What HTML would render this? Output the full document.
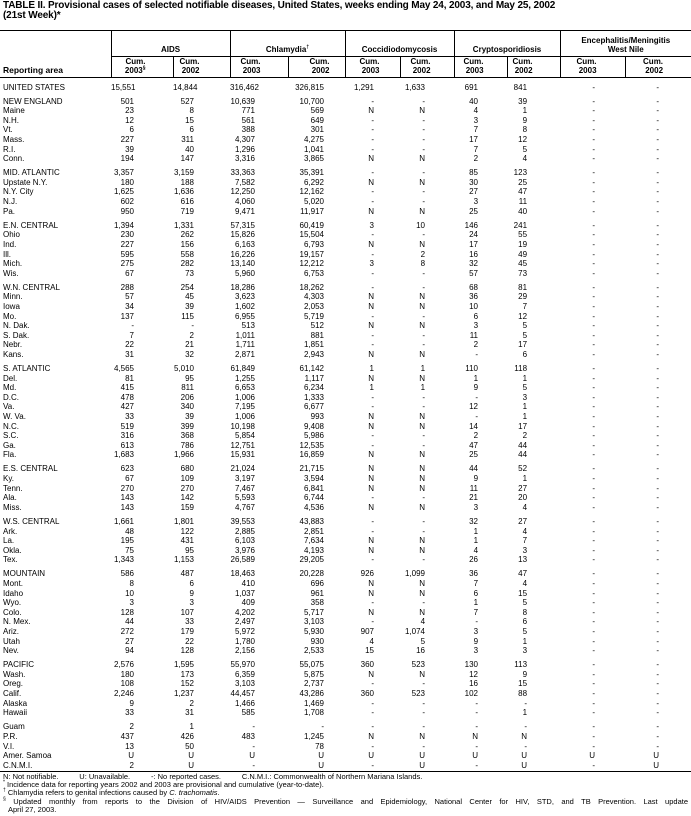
<!DOCTYPE html>
<html><head><meta charset="utf-8">
<style>
*{margin:0;padding:0;box-sizing:border-box}
body{width:691px;height:816px;background:#fff;font-family:"Liberation Sans",Arial,sans-serif;color:#000;position:relative;overflow:hidden}
sup{line-height:0}
.title{position:absolute;left:3px;top:1px;font-weight:bold;font-size:10px;line-height:10px;letter-spacing:-0.15px}
table{position:absolute;left:0;top:30px;width:691px;border-collapse:collapse;table-layout:fixed;font-size:8px}
td,th{white-space:nowrap;padding:0;overflow:visible}
th{font-weight:bold;font-size:8px;line-height:9px}
thead tr.g th{height:26px;border-top:1px solid #000;vertical-align:bottom;padding-bottom:2px;text-align:center}
thead tr.c th{height:21px;border-top:1px solid #000;border-bottom:1px solid #000;text-align:right;vertical-align:bottom;padding-bottom:2px}
thead th.bl{border-left:1px solid #000}
thead tr.c th.ra{text-align:left;padding-left:3px;font-size:8.5px}
thead tr.c th:nth-child(2){padding-right:27px}
thead tr.c th:nth-child(3){padding-right:30px}
thead tr.c th:nth-child(4){padding-right:27px}
thead tr.c th:nth-child(5){padding-right:15px}
thead tr.c th:nth-child(6){padding-right:20px}
thead tr.c th:nth-child(7){padding-right:23px}
thead tr.c th:nth-child(8){padding-right:23px}
thead tr.c th:nth-child(9){padding-right:27px}
thead tr.c th:nth-child(10){padding-right:28px}
thead tr.c th:nth-child(11){padding-right:28px}
tbody td{height:9.6px;line-height:9.6px;text-align:right}
tbody td:first-child{text-align:left;padding-left:3px}
tbody tr.sp td{height:4.5px;line-height:4.5px}
tbody tr.sp0 td{height:5px;line-height:5px}
tbody td:nth-child(2){padding-right:39px}
tbody td:nth-child(3){padding-right:36px}
tbody td:nth-child(4){padding-right:33px}
tbody td:nth-child(5){padding-right:21px}
tbody td:nth-child(6){padding-right:26px}
tbody td:nth-child(7){padding-right:29px}
tbody td:nth-child(8){padding-right:29px}
tbody td:nth-child(9){padding-right:33px}
tbody td:nth-child(10){padding-right:30px}
tbody td:nth-child(11){padding-right:32px}
.foot{position:absolute;left:0;top:771px;width:691px;border-top:1.5px solid #000;font-size:7.5px;line-height:8.2px;padding-top:1px}
.foot div{padding-left:3px;height:8.2px}
.foot div.u{height:auto}
</style></head><body>
<div class="title">TABLE II. Provisional cases of selected notifiable diseases, United States, weeks ending May 24, 2003, and May 25, 2002<br>(21st Week)*</div>
<table>
<colgroup><col style="width:111px"><col style="width:62px"><col style="width:57px"><col style="width:58px"><col style="width:57px"><col style="width:55px"><col style="width:54px"><col style="width:53px"><col style="width:53px"><col style="width:65px"><col style="width:66px"></colgroup>
<thead>
<tr class="g"><th style="border-top:1px solid #000"></th><th colspan="2" class="bl">AIDS</th><th colspan="2" class="bl">Chlamydia<sup style="font-size:5px">†</sup></th><th colspan="2" class="bl">Coccidiodomycosis</th><th colspan="2" class="bl">Cryptosporidiosis</th><th colspan="2" class="bl">Encephalitis/Meningitis<br>West Nile</th></tr>
<tr class="c"><th class="ra" style="border-top:none">Reporting area</th><th class="bl">Cum.<br>2003<sup style="font-size:5px">§</sup></th><th class="bl">Cum.<br>2002</th><th class="bl">Cum.<br>2003</th><th class="bl">Cum.<br>2002</th><th class="bl">Cum.<br>2003</th><th class="bl">Cum.<br>2002</th><th class="bl">Cum.<br>2003</th><th class="bl">Cum.<br>2002</th><th class="bl">Cum.<br>2003</th><th class="bl">Cum.<br>2002</th></tr>
</thead>
<tbody>
<tr class="sp0"><td></td><td></td><td></td><td></td><td></td><td></td><td></td><td></td><td></td><td></td><td></td></tr>
<tr><td>UNITED STATES</td><td>15,551</td><td>14,844</td><td>316,462</td><td>326,815</td><td>1,291</td><td>1,633</td><td>691</td><td>841</td><td>-</td><td>-</td></tr>
<tr class="sp"><td></td><td></td><td></td><td></td><td></td><td></td><td></td><td></td><td></td><td></td><td></td></tr>
<tr><td>NEW ENGLAND</td><td>501</td><td>527</td><td>10,639</td><td>10,700</td><td>-</td><td>-</td><td>40</td><td>39</td><td>-</td><td>-</td></tr>
<tr><td>Maine</td><td>23</td><td>8</td><td>771</td><td>569</td><td>N</td><td>N</td><td>4</td><td>1</td><td>-</td><td>-</td></tr>
<tr><td>N.H.</td><td>12</td><td>15</td><td>561</td><td>649</td><td>-</td><td>-</td><td>3</td><td>9</td><td>-</td><td>-</td></tr>
<tr><td>Vt.</td><td>6</td><td>6</td><td>388</td><td>301</td><td>-</td><td>-</td><td>7</td><td>8</td><td>-</td><td>-</td></tr>
<tr><td>Mass.</td><td>227</td><td>311</td><td>4,307</td><td>4,275</td><td>-</td><td>-</td><td>17</td><td>12</td><td>-</td><td>-</td></tr>
<tr><td>R.I.</td><td>39</td><td>40</td><td>1,296</td><td>1,041</td><td>-</td><td>-</td><td>7</td><td>5</td><td>-</td><td>-</td></tr>
<tr><td>Conn.</td><td>194</td><td>147</td><td>3,316</td><td>3,865</td><td>N</td><td>N</td><td>2</td><td>4</td><td>-</td><td>-</td></tr>
<tr class="sp"><td></td><td></td><td></td><td></td><td></td><td></td><td></td><td></td><td></td><td></td><td></td></tr>
<tr><td>MID. ATLANTIC</td><td>3,357</td><td>3,159</td><td>33,363</td><td>35,391</td><td>-</td><td>-</td><td>85</td><td>123</td><td>-</td><td>-</td></tr>
<tr><td>Upstate N.Y.</td><td>180</td><td>188</td><td>7,582</td><td>6,292</td><td>N</td><td>N</td><td>30</td><td>25</td><td>-</td><td>-</td></tr>
<tr><td>N.Y. City</td><td>1,625</td><td>1,636</td><td>12,250</td><td>12,162</td><td>-</td><td>-</td><td>27</td><td>47</td><td>-</td><td>-</td></tr>
<tr><td>N.J.</td><td>602</td><td>616</td><td>4,060</td><td>5,020</td><td>-</td><td>-</td><td>3</td><td>11</td><td>-</td><td>-</td></tr>
<tr><td>Pa.</td><td>950</td><td>719</td><td>9,471</td><td>11,917</td><td>N</td><td>N</td><td>25</td><td>40</td><td>-</td><td>-</td></tr>
<tr class="sp"><td></td><td></td><td></td><td></td><td></td><td></td><td></td><td></td><td></td><td></td><td></td></tr>
<tr><td>E.N. CENTRAL</td><td>1,394</td><td>1,331</td><td>57,315</td><td>60,419</td><td>3</td><td>10</td><td>146</td><td>241</td><td>-</td><td>-</td></tr>
<tr><td>Ohio</td><td>230</td><td>262</td><td>15,826</td><td>15,504</td><td>-</td><td>-</td><td>24</td><td>55</td><td>-</td><td>-</td></tr>
<tr><td>Ind.</td><td>227</td><td>156</td><td>6,163</td><td>6,793</td><td>N</td><td>N</td><td>17</td><td>19</td><td>-</td><td>-</td></tr>
<tr><td>Ill.</td><td>595</td><td>558</td><td>16,226</td><td>19,157</td><td>-</td><td>2</td><td>16</td><td>49</td><td>-</td><td>-</td></tr>
<tr><td>Mich.</td><td>275</td><td>282</td><td>13,140</td><td>12,212</td><td>3</td><td>8</td><td>32</td><td>45</td><td>-</td><td>-</td></tr>
<tr><td>Wis.</td><td>67</td><td>73</td><td>5,960</td><td>6,753</td><td>-</td><td>-</td><td>57</td><td>73</td><td>-</td><td>-</td></tr>
<tr class="sp"><td></td><td></td><td></td><td></td><td></td><td></td><td></td><td></td><td></td><td></td><td></td></tr>
<tr><td>W.N. CENTRAL</td><td>288</td><td>254</td><td>18,286</td><td>18,262</td><td>-</td><td>-</td><td>68</td><td>81</td><td>-</td><td>-</td></tr>
<tr><td>Minn.</td><td>57</td><td>45</td><td>3,623</td><td>4,303</td><td>N</td><td>N</td><td>36</td><td>29</td><td>-</td><td>-</td></tr>
<tr><td>Iowa</td><td>34</td><td>39</td><td>1,602</td><td>2,053</td><td>N</td><td>N</td><td>10</td><td>7</td><td>-</td><td>-</td></tr>
<tr><td>Mo.</td><td>137</td><td>115</td><td>6,955</td><td>5,719</td><td>-</td><td>-</td><td>6</td><td>12</td><td>-</td><td>-</td></tr>
<tr><td>N. Dak.</td><td>-</td><td>-</td><td>513</td><td>512</td><td>N</td><td>N</td><td>3</td><td>5</td><td>-</td><td>-</td></tr>
<tr><td>S. Dak.</td><td>7</td><td>2</td><td>1,011</td><td>881</td><td>-</td><td>-</td><td>11</td><td>5</td><td>-</td><td>-</td></tr>
<tr><td>Nebr.</td><td>22</td><td>21</td><td>1,711</td><td>1,851</td><td>-</td><td>-</td><td>2</td><td>17</td><td>-</td><td>-</td></tr>
<tr><td>Kans.</td><td>31</td><td>32</td><td>2,871</td><td>2,943</td><td>N</td><td>N</td><td>-</td><td>6</td><td>-</td><td>-</td></tr>
<tr class="sp"><td></td><td></td><td></td><td></td><td></td><td></td><td></td><td></td><td></td><td></td><td></td></tr>
<tr><td>S. ATLANTIC</td><td>4,565</td><td>5,010</td><td>61,849</td><td>61,142</td><td>1</td><td>1</td><td>110</td><td>118</td><td>-</td><td>-</td></tr>
<tr><td>Del.</td><td>81</td><td>95</td><td>1,255</td><td>1,117</td><td>N</td><td>N</td><td>1</td><td>1</td><td>-</td><td>-</td></tr>
<tr><td>Md.</td><td>415</td><td>811</td><td>6,653</td><td>6,234</td><td>1</td><td>1</td><td>9</td><td>5</td><td>-</td><td>-</td></tr>
<tr><td>D.C.</td><td>478</td><td>206</td><td>1,006</td><td>1,333</td><td>-</td><td>-</td><td>-</td><td>3</td><td>-</td><td>-</td></tr>
<tr><td>Va.</td><td>427</td><td>340</td><td>7,195</td><td>6,677</td><td>-</td><td>-</td><td>12</td><td>1</td><td>-</td><td>-</td></tr>
<tr><td>W. Va.</td><td>33</td><td>39</td><td>1,006</td><td>993</td><td>N</td><td>N</td><td>-</td><td>1</td><td>-</td><td>-</td></tr>
<tr><td>N.C.</td><td>519</td><td>399</td><td>10,198</td><td>9,408</td><td>N</td><td>N</td><td>14</td><td>17</td><td>-</td><td>-</td></tr>
<tr><td>S.C.</td><td>316</td><td>368</td><td>5,854</td><td>5,986</td><td>-</td><td>-</td><td>2</td><td>2</td><td>-</td><td>-</td></tr>
<tr><td>Ga.</td><td>613</td><td>786</td><td>12,751</td><td>12,535</td><td>-</td><td>-</td><td>47</td><td>44</td><td>-</td><td>-</td></tr>
<tr><td>Fla.</td><td>1,683</td><td>1,966</td><td>15,931</td><td>16,859</td><td>N</td><td>N</td><td>25</td><td>44</td><td>-</td><td>-</td></tr>
<tr class="sp"><td></td><td></td><td></td><td></td><td></td><td></td><td></td><td></td><td></td><td></td><td></td></tr>
<tr><td>E.S. CENTRAL</td><td>623</td><td>680</td><td>21,024</td><td>21,715</td><td>N</td><td>N</td><td>44</td><td>52</td><td>-</td><td>-</td></tr>
<tr><td>Ky.</td><td>67</td><td>109</td><td>3,197</td><td>3,594</td><td>N</td><td>N</td><td>9</td><td>1</td><td>-</td><td>-</td></tr>
<tr><td>Tenn.</td><td>270</td><td>270</td><td>7,467</td><td>6,841</td><td>N</td><td>N</td><td>11</td><td>27</td><td>-</td><td>-</td></tr>
<tr><td>Ala.</td><td>143</td><td>142</td><td>5,593</td><td>6,744</td><td>-</td><td>-</td><td>21</td><td>20</td><td>-</td><td>-</td></tr>
<tr><td>Miss.</td><td>143</td><td>159</td><td>4,767</td><td>4,536</td><td>N</td><td>N</td><td>3</td><td>4</td><td>-</td><td>-</td></tr>
<tr class="sp"><td></td><td></td><td></td><td></td><td></td><td></td><td></td><td></td><td></td><td></td><td></td></tr>
<tr><td>W.S. CENTRAL</td><td>1,661</td><td>1,801</td><td>39,553</td><td>43,883</td><td>-</td><td>-</td><td>32</td><td>27</td><td>-</td><td>-</td></tr>
<tr><td>Ark.</td><td>48</td><td>122</td><td>2,885</td><td>2,851</td><td>-</td><td>-</td><td>1</td><td>4</td><td>-</td><td>-</td></tr>
<tr><td>La.</td><td>195</td><td>431</td><td>6,103</td><td>7,634</td><td>N</td><td>N</td><td>1</td><td>7</td><td>-</td><td>-</td></tr>
<tr><td>Okla.</td><td>75</td><td>95</td><td>3,976</td><td>4,193</td><td>N</td><td>N</td><td>4</td><td>3</td><td>-</td><td>-</td></tr>
<tr><td>Tex.</td><td>1,343</td><td>1,153</td><td>26,589</td><td>29,205</td><td>-</td><td>-</td><td>26</td><td>13</td><td>-</td><td>-</td></tr>
<tr class="sp"><td></td><td></td><td></td><td></td><td></td><td></td><td></td><td></td><td></td><td></td><td></td></tr>
<tr><td>MOUNTAIN</td><td>586</td><td>487</td><td>18,463</td><td>20,228</td><td>926</td><td>1,099</td><td>36</td><td>47</td><td>-</td><td>-</td></tr>
<tr><td>Mont.</td><td>8</td><td>6</td><td>410</td><td>696</td><td>N</td><td>N</td><td>7</td><td>4</td><td>-</td><td>-</td></tr>
<tr><td>Idaho</td><td>10</td><td>9</td><td>1,037</td><td>961</td><td>N</td><td>N</td><td>6</td><td>15</td><td>-</td><td>-</td></tr>
<tr><td>Wyo.</td><td>3</td><td>3</td><td>409</td><td>358</td><td>-</td><td>-</td><td>1</td><td>5</td><td>-</td><td>-</td></tr>
<tr><td>Colo.</td><td>128</td><td>107</td><td>4,202</td><td>5,717</td><td>N</td><td>N</td><td>7</td><td>8</td><td>-</td><td>-</td></tr>
<tr><td>N. Mex.</td><td>44</td><td>33</td><td>2,497</td><td>3,103</td><td>-</td><td>4</td><td>-</td><td>6</td><td>-</td><td>-</td></tr>
<tr><td>Ariz.</td><td>272</td><td>179</td><td>5,972</td><td>5,930</td><td>907</td><td>1,074</td><td>3</td><td>5</td><td>-</td><td>-</td></tr>
<tr><td>Utah</td><td>27</td><td>22</td><td>1,780</td><td>930</td><td>4</td><td>5</td><td>9</td><td>1</td><td>-</td><td>-</td></tr>
<tr><td>Nev.</td><td>94</td><td>128</td><td>2,156</td><td>2,533</td><td>15</td><td>16</td><td>3</td><td>3</td><td>-</td><td>-</td></tr>
<tr class="sp"><td></td><td></td><td></td><td></td><td></td><td></td><td></td><td></td><td></td><td></td><td></td></tr>
<tr><td>PACIFIC</td><td>2,576</td><td>1,595</td><td>55,970</td><td>55,075</td><td>360</td><td>523</td><td>130</td><td>113</td><td>-</td><td>-</td></tr>
<tr><td>Wash.</td><td>180</td><td>173</td><td>6,359</td><td>5,875</td><td>N</td><td>N</td><td>12</td><td>9</td><td>-</td><td>-</td></tr>
<tr><td>Oreg.</td><td>108</td><td>152</td><td>3,103</td><td>2,737</td><td>-</td><td>-</td><td>16</td><td>15</td><td>-</td><td>-</td></tr>
<tr><td>Calif.</td><td>2,246</td><td>1,237</td><td>44,457</td><td>43,286</td><td>360</td><td>523</td><td>102</td><td>88</td><td>-</td><td>-</td></tr>
<tr><td>Alaska</td><td>9</td><td>2</td><td>1,466</td><td>1,469</td><td>-</td><td>-</td><td>-</td><td>-</td><td>-</td><td>-</td></tr>
<tr><td>Hawaii</td><td>33</td><td>31</td><td>585</td><td>1,708</td><td>-</td><td>-</td><td>-</td><td>1</td><td>-</td><td>-</td></tr>
<tr class="sp"><td></td><td></td><td></td><td></td><td></td><td></td><td></td><td></td><td></td><td></td><td></td></tr>
<tr><td>Guam</td><td>2</td><td>1</td><td>-</td><td>-</td><td>-</td><td>-</td><td>-</td><td>-</td><td>-</td><td>-</td></tr>
<tr><td>P.R.</td><td>437</td><td>426</td><td>483</td><td>1,245</td><td>N</td><td>N</td><td>N</td><td>N</td><td>-</td><td>-</td></tr>
<tr><td>V.I.</td><td>13</td><td>50</td><td>-</td><td>78</td><td>-</td><td>-</td><td>-</td><td>-</td><td>-</td><td>-</td></tr>
<tr><td>Amer. Samoa</td><td>U</td><td>U</td><td>U</td><td>U</td><td>U</td><td>U</td><td>U</td><td>U</td><td>U</td><td>U</td></tr>
<tr><td>C.N.M.I.</td><td>2</td><td>U</td><td>-</td><td>U</td><td>-</td><td>U</td><td>-</td><td>U</td><td>-</td><td>U</td></tr>
</tbody>
</table>
<div class="foot">
<div>N: Not notifiable.&nbsp;&nbsp;&nbsp;&nbsp;&nbsp;&nbsp;&nbsp;&nbsp;&nbsp;&nbsp;U: Unavailable.&nbsp;&nbsp;&nbsp;&nbsp;&nbsp;&nbsp;&nbsp;&nbsp;&nbsp;&nbsp;-: No reported cases.&nbsp;&nbsp;&nbsp;&nbsp;&nbsp;&nbsp;&nbsp;&nbsp;&nbsp;&nbsp;C.N.M.I.: Commonwealth of Northern Mariana Islands.</div>
<div><sup style="font-size:5px">*</sup> Incidence data for reporting years 2002 and 2003 are provisional and cumulative (year-to-date).</div>
<div><sup style="font-size:5px">†</sup> Chlamydia refers to genital infections caused by <i>C. trachomatis</i>.</div>
<div style="text-align:justify;text-align-last:justify;padding-right:3px"><sup style="font-size:5px">§</sup> Updated monthly from reports to the Division of HIV/AIDS Prevention — Surveillance and Epidemiology, National Center for HIV, STD, and TB Prevention. Last update</div>
<div style="padding-left:8px">April 27, 2003.</div>
</div>
</body></html>
